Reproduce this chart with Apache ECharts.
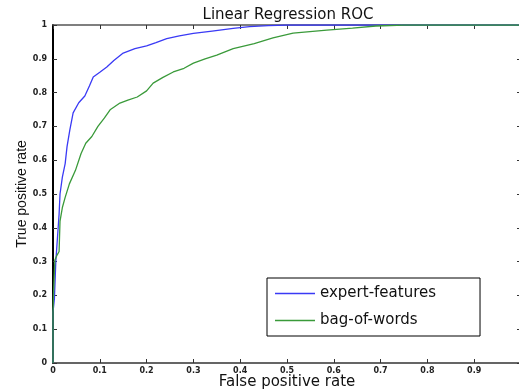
<!DOCTYPE html>
<html>
<head>
<meta charset="utf-8">
<script src="https://cdn.jsdelivr.net/npm/echarts@6/dist/echarts.min.js"></script>
<style>
  html, body { margin: 0; padding: 0; background: #fff; }
  #chart { width: 519px; height: 392px; }
</style>
</head>
<body>
<div id="chart"></div>
<script>
// ROC points
const fprExpert = [0, 0, 0.003, 0.006, 0.011, 0.013, 0.015, 0.02, 0.026, 0.03, 0.036, 0.043, 0.055, 0.068, 0.078, 0.086, 0.1, 0.115, 0.13, 0.15, 0.175, 0.2, 0.22, 0.243, 0.27, 0.3, 0.34, 0.385, 0.42, 0.46, 0.5, 1];
const tprExpert = [0, 0.15, 0.19, 0.3, 0.4, 0.44, 0.5, 0.55, 0.59, 0.64, 0.69, 0.74, 0.77, 0.79, 0.82, 0.846, 0.86, 0.876, 0.895, 0.917, 0.93, 0.938, 0.948, 0.96, 0.968, 0.975, 0.982, 0.99, 0.995, 0.998, 1, 1];

const fprBag = [0, 0, 0.001, 0.004, 0.009, 0.013, 0.015, 0.02, 0.026, 0.035, 0.048, 0.06, 0.07, 0.083, 0.096, 0.11, 0.122, 0.143, 0.16, 0.18, 0.2, 0.214, 0.235, 0.257, 0.28, 0.3, 0.325, 0.35, 0.385, 0.43, 0.47, 0.513, 0.585, 0.64, 0.69, 0.75, 1];
const tprBag = [0, 0.15, 0.2, 0.305, 0.32, 0.33, 0.42, 0.46, 0.49, 0.53, 0.57, 0.62, 0.65, 0.67, 0.7, 0.725, 0.749, 0.769, 0.778, 0.787, 0.805, 0.828, 0.845, 0.861, 0.872, 0.887, 0.9, 0.911, 0.93, 0.945, 0.962, 0.976, 0.985, 0.991, 0.997, 1, 1];

const seriesNames = ["expert-features", "bag-of-words"];

const zip = (xs, ys) => xs.map((x, i) => [x, ys[i]]);
const tickFmt = (v) => (v === 0 ? "0" : v === 1 ? "1" : v.toFixed(1));

// the picture is a bit stretched sideways, so horizontal text gets a wide font
const font = "DejaVu Sans, Verdana, sans-serif";
const tickLabel = { fontSize: 8, fontWeight: "bold", color: "#222", fontFamily: font };

const baseAxis = {
  type: "value",
  min: 0,
  max: 1,
  interval: 0.1,
  splitLine: { show: false },
  axisTick: { show: true, inside: true, length: 4, lineStyle: { color: "#333", width: 1 } },
};

const chart = echarts.init(document.getElementById("chart"));
chart.setOption({
  animation: false,
  title: {
    text: "Linear Regression ROC",
    left: 283,
    textAlign: "center",
    top: 3,
    textStyle: { fontSize: 15, fontWeight: "normal", color: "#111", fontFamily: font },
  },
  grid: { left: 53, top: 25, width: 468, bottom: 29, outerBoundsMode: "none" },
  xAxis: [
    {
      ...baseAxis,
      position: "bottom",
      name: "False positive rate",
      nameLocation: "middle",
      nameGap: 19,
      nameMoveOverlap: false,
      nameTextStyle: { fontSize: 15, color: "#111", fontFamily: font, verticalAlign: "middle" },
      axisLine: { show: true, onZero: false, lineStyle: { color: "#333", width: 1.5 } },
      axisLabel: { ...tickLabel, margin: 4, formatter: tickFmt },
    },
    {
      ...baseAxis,
      position: "top",
      axisLine: { show: true, onZero: false, lineStyle: { color: "#555", width: 1.5 } },
      axisLabel: { show: false },
    },
  ],
  yAxis: [
    {
      ...baseAxis,
      position: "left",
      name: "True positive rate",
      nameLocation: "middle",
      nameGap: 31,
      nameMoveOverlap: false,
      nameTextStyle: { fontSize: 14, color: "#111", fontFamily: "Liberation Sans, Arial, sans-serif", verticalAlign: "middle" },
      axisLine: { show: true, onZero: false, lineStyle: { color: "#000", width: 2 } },
      axisLabel: { ...tickLabel, margin: 6, formatter: tickFmt },
    },
    {
      ...baseAxis,
      position: "right",
      axisLine: { show: true, onZero: false, lineStyle: { color: "#333", width: 1.5 } },
      axisLabel: { show: false },
    },
  ],
  legend: {
    orient: "vertical",
    left: 267,
    top: 278,
    data: seriesNames,
    icon: "rect",
    itemWidth: 40,
    itemHeight: 1.5,
    itemGap: 12,
    padding: [8, 44, 8, 8],
    borderColor: "#000",
    borderWidth: 1,
    backgroundColor: "#fff",
    textStyle: { fontSize: 15, color: "#111", fontFamily: font },
  },
  series: [
    {
      name: seriesNames[0],
      type: "line",
      data: zip(fprExpert, tprExpert),
      symbol: "none",
      lineStyle: { color: "#3a3af5", width: 1.3 },
      itemStyle: { color: "#3a3af5" },
    },
    {
      name: seriesNames[1],
      type: "line",
      data: zip(fprBag, tprBag),
      symbol: "none",
      lineStyle: { color: "#3a9a3a", width: 1.3 },
      itemStyle: { color: "#3a9a3a" },
    },
  ],
});
</script>
</body>
</html>
